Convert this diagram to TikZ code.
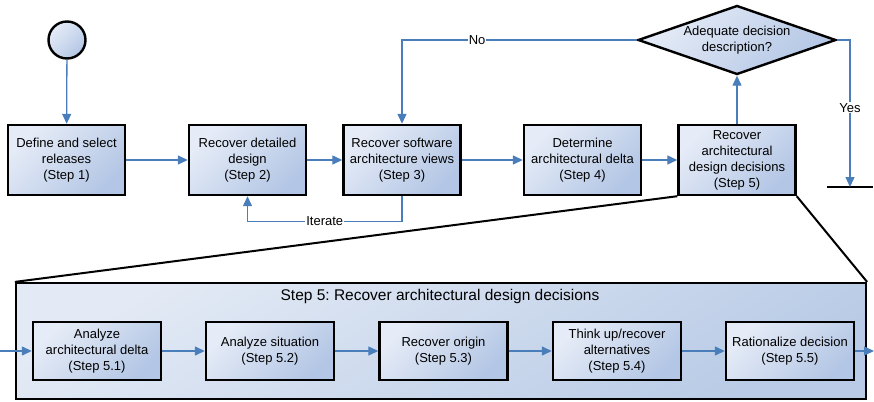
\documentclass[tikz,border=0pt]{standalone}
\usepackage{fontspec}
\setmainfont{Liberation Sans}
\usetikzlibrary{positioning,shapes.geometric,arrows.meta}
\frenchspacing

\definecolor{flowblue}{HTML}{4A7EBB}
\definecolor{fillhi}{HTML}{E6ECF7}
\definecolor{filllo}{HTML}{B3C6E5}
\definecolor{panelhi}{HTML}{E3EAF5}
\definecolor{panello}{HTML}{B9CBE6}

\tikzset{
  stepbox/.style={draw, line width=2.4pt, top color=fillhi, bottom color=filllo,
    shading angle=45, minimum width=117pt, minimum height=70pt, inner sep=1pt,
    align=center, font=\fontsize{13}{16}\selectfont},
  substep/.style={stepbox, minimum width=128pt, minimum height=58pt},
  decision/.style={draw, diamond, line width=2.4pt, top color=fillhi, bottom color=filllo,
    shading angle=45, minimum width=198pt, minimum height=69pt, inner sep=0pt,
    aspect=2.87, align=center, font=\fontsize{13}{16}\selectfont},
  startnode/.style={draw, circle, line width=2.4pt, top color=fillhi, bottom color=filllo,
    shading angle=45, minimum size=37pt, inner sep=0pt},
  panel/.style={draw, line width=2.2pt, top color=panelhi, bottom color=panello,
    shading angle=30, minimum width=850pt, minimum height=116pt, inner sep=0pt},
  flow/.style={draw=flowblue, line width=1.3pt, -{Triangle[length=10pt,width=9pt]}},
  flowlabel/.style={fill=white, inner sep=1pt, font=\fontsize{13}{15}\selectfont},
}

\begin{document}
\begin{tikzpicture}[x=1pt,y=-1pt]
  \useasboundingbox (0,0) rectangle (874,401);

  % main flow
  \node[startnode] (start) at (67,40) {};
  \node[stepbox] (box1) at (66.5,160) {Define and select\\releases\\(Step 1)};
  \node[stepbox] (box2) at (247.5,160) {Recover detailed\\design\\(Step 2)};
  \node[stepbox] (box3) at (402,160) {Recover software\\architecture views\\(Step 3)};
  \node[stepbox] (box4) at (582.5,160) {Determine\\architectural delta\\(Step 4)};
  \node[stepbox] (box5) at (737,160) {Recover\\architectural\\design decisions\\(Step 5)};
  \node[decision] (decide) at (737,40) {Adequate decision\\description?};
  \coordinate (stop) at (850,187);
  \draw[line width=2.4pt] ([xshift=-23pt]stop) -- ([xshift=23pt]stop);

  \draw[flow] (start) -- (box1);
  \draw[flow] (box1) -- (box2);
  \draw[flow] (box2) -- (box3);
  \draw[flow] (box3) -- (box4);
  \draw[flow] (box4) -- (box5);
  \draw[flow] (box5) -- (decide);
  \draw[flow] (decide.west) -| node[flowlabel,pos=0.34] {No} (box3.north);
  \draw[flow] (decide.east) -| node[flowlabel,pos=0.73] {Yes} (stop);
  \draw[flow] (box3.south) -- ++(0,25) -| node[flowlabel,pos=0.25] {Iterate} (box2.south);

  % detail of step 5
  \node[panel] (panel) at (441,341) {};
  \node[font=\fontsize{15.5}{18}\selectfont] (paneltitle) at (440,296)
    {Step 5: Recover architectural design decisions};
  \draw[line width=2pt] (box5.south west) -- (panel.north west);
  \draw[line width=2pt] (box5.south east) -- (panel.north east);

  \node[substep] (sub1) at (97,351) {Analyze\\architectural delta\\(Step 5.1)};
  \node[substep] (sub2) at (270,351) {Analyze situation\\(Step 5.2)};
  \node[substep] (sub3) at (443.5,351) {Recover origin\\(Step 5.3)};
  \node[substep] (sub4) at (617,351) {Think up/recover\\alternatives\\(Step 5.4)};
  \node[substep] (sub5) at (790,351) {Rationalize decision\\(Step 5.5)};
  \coordinate (panelin) at (0,351);
  \coordinate (panelout) at (874,351);

  \draw[flow] (panelin) -- (sub1);
  \draw[flow] (sub1) -- (sub2);
  \draw[flow] (sub2) -- (sub3);
  \draw[flow] (sub3) -- (sub4);
  \draw[flow] (sub4) -- (sub5);
  \draw[flow] (sub5) -- (panelout);
\end{tikzpicture}
\end{document}
